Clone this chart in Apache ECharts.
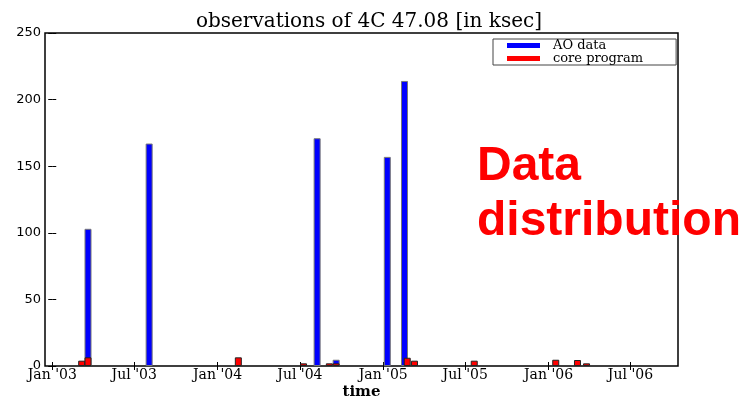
<!DOCTYPE html>
<html>
<head>
<meta charset="utf-8">
<script src="https://cdn.jsdelivr.net/npm/echarts@6/dist/echarts.min.js"></script>
<style>
html,body{margin:0;padding:0;background:#fff;}
#chart{width:741px;height:398px;}
</style>
</head>
<body>
<div id="chart"></div>
<script>
// ---- data ----
const aoDates = ['2003-03-21','2003-08-03','2004-08-08','2004-09-19','2005-01-10','2005-02-17'];
const aoValues = [103, 167, 171, 4.7, 157, 214];
const coreDates = ['2003-03-07','2003-03-21','2004-02-16','2004-07-09','2004-09-04','2004-09-19','2005-02-23','2005-03-11','2005-07-21','2006-01-17','2006-03-06','2006-03-26'];
const coreValues = [4, 6.5, 6.5, 2, 2, 2, 6.2, 4, 4, 4.7, 4.5, 2];
const tickDates = ['2003-01-01','2003-07-01','2004-01-01','2004-07-01','2005-01-01','2005-07-01','2006-01-01','2006-07-01'];
const tickLabels = ["Jan '03","Jul '03","Jan '04","Jul '04","Jan '05","Jul '05","Jan '06","Jul '06"];
const yTicks = [0, 50, 100, 150, 200, 250];
const xRange = ['2002-12-16', '2006-10-14'];

// days since 2003-01-01 (used as numeric time scale)
const day0 = Date.UTC(2003, 0, 1);
const dnum = s => (new Date(s + 'T00:00:00Z').getTime() - day0) / 86400000;
const tickNums = tickDates.map(dnum);
const labelOf = {};
tickNums.forEach((t, i) => { labelOf[t] = tickLabels[i]; });

const chart = echarts.init(document.getElementById('chart'), null, {renderer: 'canvas'});
const serif = 'DejaVu Serif';
const xBase = {
  type: 'value',
  min: dnum(xRange[0]),
  max: dnum(xRange[1]),
  splitLine: {show: false},
  axisLine: {show: false}
};
chart.setOption({
  animation: false,
  backgroundColor: '#fff',
  title: {
    text: 'observations of 4C 47.08 [in ksec]',
    left: 364, textAlign: 'center', top: 7,
    textStyle: {fontFamily: serif, fontSize: 20, fontWeight: 'normal', color: '#000'}
  },
  legend: {
    orient: 'vertical',
    left: 493, top: 39,
    padding: [0, 33, 0, 14],
    itemGap: 0,
    itemWidth: 33, itemHeight: 5,
    icon: 'rect',
    borderColor: '#444', borderWidth: 1,
    textStyle: {fontFamily: serif, fontSize: 13, color: '#000', lineHeight: 11, padding: [0, 0, 0, 8]},
    data: [
      {name: 'AO data', itemStyle: {color: '#0000ff', borderWidth: 0}},
      {name: 'core program', itemStyle: {color: '#ff0000', borderWidth: 0}}
    ]
  },
  grid: {
    left: 45, right: 63, top: 33, bottom: 32,
    containLabel: false, outerBoundsMode: 'none',
    show: true, borderColor: '#000', borderWidth: 1.5, backgroundColor: '#fff'
  },
  xAxis: [
    Object.assign({}, xBase, {
      position: 'bottom',
      name: 'time', nameLocation: 'middle', nameGap: 19, nameMoveOverlap: false,
      nameTextStyle: {fontFamily: serif, fontSize: 15, fontWeight: 'bold', color: '#000'},
      axisTick: {show: true, inside: true, length: 4, customValues: tickNums, lineStyle: {color: '#000'}},
      axisLabel: {
        customValues: tickNums, margin: 2, showMinLabel: true, showMaxLabel: true,
        fontFamily: serif, fontSize: 14, color: '#000',
        formatter: v => labelOf[v] || ''
      }
    }),
    Object.assign({}, xBase, {
      position: 'top',
      axisTick: {show: true, inside: true, length: 4, customValues: tickNums, lineStyle: {color: '#000'}},
      axisLabel: {show: false}
    })
  ],
  yAxis: [
    {
      type: 'value', min: 0, max: 250, interval: 50, position: 'left',
      splitLine: {show: false}, axisLine: {show: false},
      axisTick: {show: true, inside: true, length: 4, lineStyle: {color: '#000'}},
      axisLabel: {margin: 4, fontFamily: 'DejaVu Sans', fontSize: 13, color: '#000',
        formatter: v => yTicks.indexOf(v) >= 0 ? String(v) : ''}
    },
    {
      type: 'value', min: 0, max: 250, interval: 50, position: 'right',
      splitLine: {show: false}, axisLine: {show: false},
      axisTick: {show: true, inside: true, length: 4, lineStyle: {color: '#000'}},
      axisLabel: {show: false}
    }
  ],
  series: [
    {
      name: 'AO data', type: 'bar', xAxisIndex: 0, yAxisIndex: 0,
      barWidth: 7, barGap: '-100%',
      itemStyle: {color: '#0000ff', borderColor: '#777', borderWidth: 1},
      data: aoDates.map((d, i) => [dnum(d), aoValues[i]])
    },
    {
      name: 'core program', type: 'bar', xAxisIndex: 0, yAxisIndex: 0,
      barWidth: 7, barGap: '-100%', z: 3,
      itemStyle: {color: '#ff0000', borderColor: '#222', borderWidth: 1},
      data: coreDates.map((d, i) => [dnum(d), coreValues[i]])
    }
  ],
  graphic: [
    {type: 'text', left: 477, top: 143, z: 100,
      style: {text: 'Data', fill: '#ff0000', font: 'bold 48px "Liberation Sans"'}},
    {type: 'text', left: 477, top: 198, z: 100,
      style: {text: 'distribution', fill: '#ff0000', font: 'bold 48px "Liberation Sans"'}}
  ]
});
</script>
</body>
</html>
